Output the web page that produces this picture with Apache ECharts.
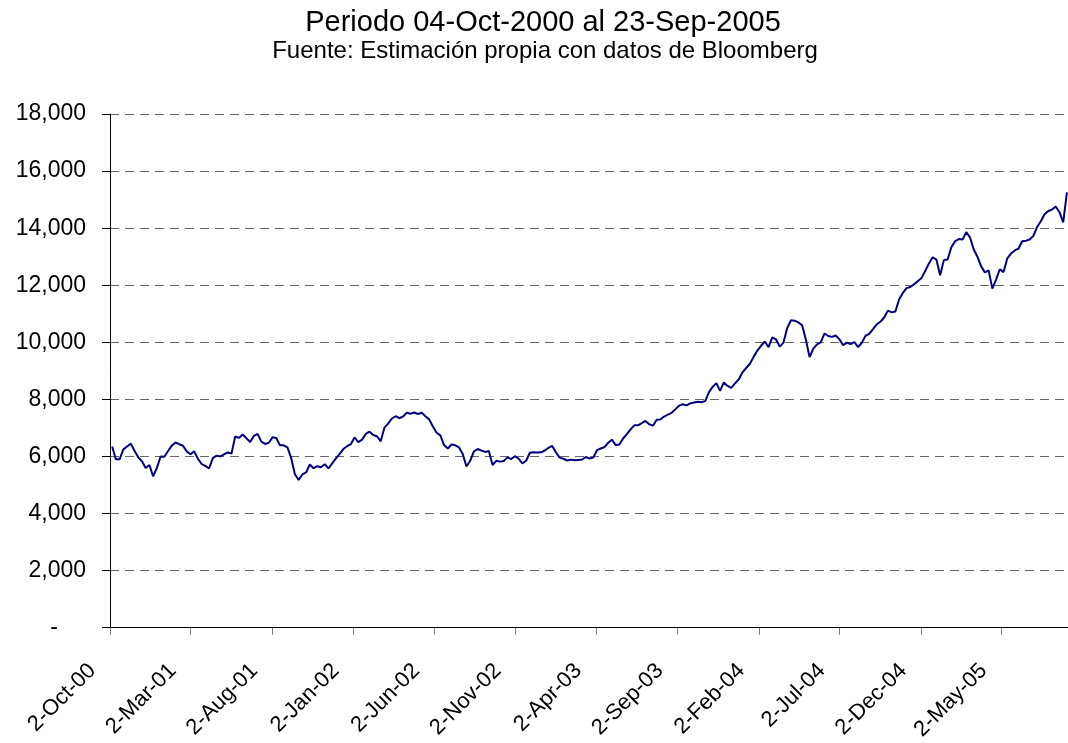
<!DOCTYPE html>
<html>
<head>
<meta charset="utf-8">
<script src="https://cdn.jsdelivr.net/npm/echarts@6/dist/echarts.min.js"></script>
<style>
  html, body { margin: 0; padding: 0; background: #fff; }
  #container { width: 1068px; height: 743px; }
</style>
</head>
<body>
<div id="container"></div>
<script>
// weekly closes (Fridays), one array per year
var startWeek = '2000-10-06';
var w2000 = [6350, 5900, 5900, 6250, 6350, 6450, 6200, 5970, 5830, 5600, 5700, 5300, 5600];
var w2001 = [6000, 5990, 6190, 6380, 6490, 6430, 6375, 6180, 6080, 6180, 5920, 5735, 5670,
    5580, 5940, 6030, 6000, 6070, 6140, 6100, 6700, 6650, 6770, 6640, 6510, 6720,
    6790, 6520, 6440, 6480, 6670, 6650, 6390, 6390, 6320, 5950, 5380, 5180, 5370,
    5440, 5720, 5590, 5660, 5625, 5730, 5580, 5760, 5930, 6090, 6260, 6360, 6430];
var w2002 = [6670, 6500, 6590, 6790, 6870, 6750, 6710, 6530, 7010, 7150, 7330, 7410, 7340,
    7400, 7530, 7500, 7540, 7490, 7530, 7410, 7300, 7050, 6830, 6740, 6400, 6280,
    6420, 6390, 6320, 6090, 5650, 5850, 6180, 6260, 6210, 6160, 6190, 5700, 5850,
    5820, 5840, 5970, 5910, 6010, 5920, 5760, 5850, 6130, 6150, 6140, 6145, 6210];
var w2003 = [6300, 6370, 6140, 5960, 5920, 5860, 5890, 5870, 5880, 5890, 5980, 5930, 5960,
    6220, 6280, 6330, 6480, 6590, 6400, 6420, 6630, 6780, 6950, 7090, 7090, 7170,
    7245, 7130, 7080, 7290, 7300, 7400, 7465, 7530, 7650, 7780, 7830, 7790, 7860,
    7890, 7920, 7900, 7940, 8245, 8440, 8570, 8300, 8595, 8470, 8400, 8560, 8700];
var w2004 = [8950, 9100, 9250, 9490, 9710, 9880, 10030, 9830, 10170, 10100, 9850, 9990, 10500,
    10770, 10760, 10700, 10600, 10100, 9480, 9780, 9930, 10000, 10310, 10220, 10190, 10240,
    10110, 9900, 9990, 9940, 10010, 9830, 9985, 10230, 10300, 10460, 10630, 10720, 10870,
    11110, 11050, 11080, 11500, 11730, 11900, 11940, 12030, 12140, 12250, 12500, 12760, 12980,
    12900];
var w2005 = [12350, 12880, 12900, 13330, 13540, 13620, 13600, 13860, 13680, 13260, 13000, 12660,
    12450, 12520, 11880, 12200, 12560, 12460, 12940, 13110, 13220, 13280, 13540, 13560,
    13600, 13730, 14040, 14240, 14490, 14600, 14650, 14760, 14560, 14200, 15250];

var tickDates = ['2000-10-02', '2001-03-02', '2001-08-02', '2002-01-02', '2002-06-02', '2002-11-02',
    '2003-04-02', '2003-09-02', '2004-02-02', '2004-07-02', '2004-12-02', '2005-05-02'];
var yTicks = [0, 2000, 4000, 6000, 8000, 10000, 12000, 14000, 16000, 18000];
var monthNames = ['Jan', 'Feb', 'Mar', 'Apr', 'May', 'Jun', 'Jul', 'Aug', 'Sep', 'Oct', 'Nov', 'Dec'];

function utc(s) {
    var p = s.split('-');
    return Date.UTC(+p[0], +p[1] - 1, +p[2]);
}

var DAY = 86400000;
var closes = w2000.concat(w2001, w2002, w2003, w2004, w2005);
var t0 = utc(startWeek);
var seriesData = closes.map(function (v, i) { return [t0 + i * 7 * DAY, v]; });
var tickValues = tickDates.map(utc);

var FONT = '"Liberation Sans", Arial, sans-serif';

var dom = document.getElementById('container');
var myChart = echarts.init(dom, null, { renderer: 'canvas' });

var option = {
    animation: false,
    backgroundColor: '#fff',
    title: [{
        text: 'Periodo 04-Oct-2000 al 23-Sep-2005',
        left: 538, top: 3, textAlign: 'center',
        textStyle: { fontFamily: FONT, fontSize: 29, fontWeight: 'normal', color: '#000' }
    }, {
        text: 'Fuente: Estimación propia con datos de Bloomberg',
        left: 540, top: 34, textAlign: 'center',
        textStyle: { fontFamily: FONT, fontSize: 24, fontWeight: 'normal', color: '#000' }
    }],
    grid: { left: 110, right: 0, top: 114, bottom: 114, containLabel: false },
    xAxis: {
        // dates as UTC timestamps on a value axis, ticks every 5 months
        type: 'value',
        min: utc('2000-10-02'),
        max: utc('2005-09-04'),
        axisLine: { lineStyle: { color: '#000', width: 1 } },
        axisTick: { show: true, length: 7, customValues: tickValues, lineStyle: { color: '#808080' } },
        axisLabel: {
            customValues: tickValues,
            rotate: 45,
            margin: 22,
            padding: [0, 25, 0, 0],
            fontFamily: FONT,
            fontSize: 22,
            color: '#000',
            formatter: function (val) {
                var d = new Date(val);
                var yy = String(d.getUTCFullYear() % 100).padStart(2, '0');
                return d.getUTCDate() + '-' + monthNames[d.getUTCMonth()] + '-' + yy;
            }
        },
        splitLine: { show: false }
    },
    yAxis: {
        type: 'value',
        min: yTicks[0],
        max: yTicks[yTicks.length - 1],
        interval: 2000,
        axisLine: { show: true, lineStyle: { color: '#000', width: 1 } },
        axisTick: { show: true, length: 8, lineStyle: { color: '#000' } },
        axisLabel: {
            margin: 24,
            fontFamily: FONT,
            fontSize: 23,
            color: '#000',
            formatter: function (v) {
                return v === 0 ? '{dash|-}' : v.toLocaleString('en-US');
            },
            rich: {
                dash: { fontFamily: FONT, fontSize: 23, color: '#000', padding: [0, 28, 0, 0] }
            }
        },
        splitLine: { show: true, lineStyle: { color: '#666', type: [9, 6], width: 1 } }
    },
    series: [{
        type: 'line',
        data: seriesData,
        showSymbol: false,
        symbol: 'none',
        lineStyle: { color: '#000080', width: 2 },
        clip: true
    }]
};

myChart.setOption(option);

window.onresize = function () {
    myChart.resize();
};
</script>
</body>
</html>
